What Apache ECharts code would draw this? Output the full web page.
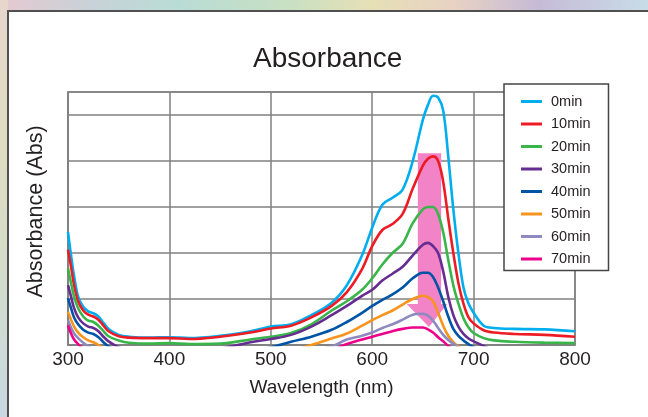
<!DOCTYPE html>
<html lang="en">
<head>
    <meta charset="UTF-8">
    <title>Absorbance</title>
    <script src="https://cdn.jsdelivr.net/npm/echarts@6/dist/echarts.min.js"></script>
    <style>
        html, body { margin: 0; padding: 0; }
        .frame {
            position: relative; width: 648px; height: 417px; overflow: hidden;
            background: linear-gradient(90deg, #e6c9d0 0%, #c8d2d8 14%, #b9dcd5 28%, #c8e0c3 44%, #e5e0b6 57%, #e8d2c3 70%, #c6bbd7 83%, #c8dce8 100%);
        }
        .side {
            position: absolute; left: 0; top: 0; width: 8px; height: 417px;
            background: linear-gradient(180deg, #e6d6cc 0%, #dfdcc0 35%, #d6dcc8 60%, #c7d8e2 100%);
        }
        .panel {
            position: absolute; left: 7px; top: 10px; right: 0; bottom: 0;
            background: #fff; border-top: 2px solid #505050; border-left: 2px solid #505050;
        }
        #main { position: absolute; left: 0; top: 0; width: 648px; height: 417px; }
    </style>
</head>
<body>
<div class="frame">
    <div class="side"></div>
    <div class="panel"></div>
    <div id="main"></div>
</div>
<script>
    // 波长 (nm)
    var wavelengths = [300, 303, 306, 310, 315, 320, 325, 330, 335, 340,
        350, 360, 380, 400, 420, 450, 480, 500, 520, 540,
        560, 575, 590, 600, 610, 620, 630, 640, 650, 655,
        660, 665, 670, 675, 680, 685, 690, 695, 700, 710,
        720, 740, 770, 800];

    var abs0 = [2.46, 1.95, 1.5, 1.05, 0.83, 0.73, 0.69, 0.62, 0.48, 0.35,
        0.22, 0.18, 0.16, 0.17, 0.15, 0.2, 0.3, 0.4, 0.45, 0.65,
        0.92, 1.3, 1.95, 2.55, 3.05, 3.2, 3.38, 4.0, 4.9, 5.22,
        5.42, 5.38, 5.1, 4.1, 2.95, 2.0, 1.25, 0.9, 0.7, 0.42,
        0.37, 0.35, 0.34, 0.3];
    var abs10 = [2.07, 1.7, 1.3, 0.95, 0.75, 0.66, 0.62, 0.55, 0.42, 0.3,
        0.19, 0.16, 0.15, 0.15, 0.13, 0.18, 0.27, 0.36, 0.42, 0.6,
        0.85, 1.15, 1.65, 2.15, 2.5, 2.63, 2.85, 3.4, 3.9, 4.05,
        4.1, 4.0, 3.55, 2.75, 2.0, 1.35, 0.9, 0.6, 0.47, 0.32,
        0.27, 0.24, 0.22, 0.18];
    var abs20 = [1.67, 1.35, 1.05, 0.8, 0.62, 0.53, 0.5, 0.42, 0.3, 0.19,
        0.1, 0.05, 0.03, 0.04, 0.02, 0.03, 0.12, 0.18, 0.26, 0.45,
        0.75, 0.95, 1.2, 1.45, 1.75, 2.0, 2.2, 2.65, 2.95, 3.0,
        3.0, 2.85, 2.45, 1.85, 1.3, 0.9, 0.58, 0.38, 0.26, 0.15,
        0.1, 0.07, 0.05, 0.04];
    var abs30 = [1.3, 1.05, 0.8, 0.6, 0.47, 0.4, 0.37, 0.3, 0.18, 0.08,
        -0.05, -0.12, -0.15, -0.15, -0.15, -0.08, 0.06, 0.13, 0.22, 0.4,
        0.65, 0.85, 1.07, 1.2, 1.4, 1.55, 1.7, 1.95, 2.18, 2.22,
        2.15, 2.0, 1.6, 1.05, 0.65, 0.4, 0.24, 0.14, 0.08, -0.02,
        -0.12, -0.15, -0.15, -0.15];
    var abs40 = [1.02, 0.8, 0.6, 0.45, 0.33, 0.27, 0.24, 0.17, 0.06, -0.03,
        -0.12, -0.15, -0.15, -0.15, -0.15, -0.15, -0.12, -0.05, 0.07, 0.18,
        0.33, 0.5, 0.7, 0.85, 0.98, 1.1, 1.25, 1.45, 1.57, 1.57,
        1.48, 1.25, 0.95, 0.62, 0.35, 0.2, 0.1, 0.02, -0.05, -0.12,
        -0.15, -0.15, -0.15, -0.15];
    var abs50 = [0.72, 0.55, 0.4, 0.27, 0.17, 0.1, 0.06, 0.0, -0.08, -0.15,
        -0.15, -0.15, -0.15, -0.15, -0.15, -0.15, -0.15, -0.15, -0.12, 0.0,
        0.14, 0.25, 0.42, 0.54, 0.65, 0.75, 0.88, 1.0, 1.07, 1.04,
        0.95, 0.7, 0.42, 0.2, 0.06, -0.03, -0.1, -0.15, -0.15, -0.15,
        -0.15, -0.15, -0.15, -0.15];
    var abs60 = [0.54, 0.38, 0.25, 0.15, 0.05, -0.03, -0.1, -0.15, -0.15, -0.15,
        -0.15, -0.15, -0.15, -0.15, -0.15, -0.15, -0.15, -0.15, -0.15, -0.12,
        -0.03, 0.12, 0.2, 0.27, 0.37, 0.45, 0.55, 0.66, 0.68, 0.64,
        0.53, 0.37, 0.22, 0.11, 0.03, -0.05, -0.12, -0.15, -0.15, -0.15,
        -0.15, -0.15, -0.15, -0.15];
    var abs70 = [0.43, 0.25, 0.12, 0.02, -0.08, -0.15, -0.15, -0.15, -0.15, -0.15,
        -0.15, -0.15, -0.15, -0.15, -0.15, -0.15, -0.15, -0.15, -0.15, -0.15,
        -0.1, 0.02, 0.12, 0.18, 0.24, 0.3, 0.35, 0.38, 0.38, 0.34,
        0.27, 0.17, 0.08, -0.02, -0.1, -0.15, -0.15, -0.15, -0.15, -0.15,
        -0.15, -0.15, -0.15, -0.15];

    var seriesNames = ['0min', '10min', '20min', '30min', '40min', '50min', '60min', '70min'];
    var seriesValues = [abs0, abs10, abs20, abs30, abs40, abs50, abs60, abs70];
    var seriesColors = ['#00aeef', '#ed1c24', '#39b54a', '#662d91', '#0054a6', '#f7941d', '#8e8ac0', '#ec008c'];

    // 粉色箭头 (nm, Abs)
    var arrowShape = [[645, 4.17], [668, 4.17], [668, 0.89], [674, 0.89], [656, 0.39], [634, 0.89], [645, 0.89]];

    var font = "'Liberation Sans', Arial, sans-serif";
    var gridColor = '#808080';

    var series = [{
        type: 'custom',
        silent: true,
        z: 1,
        data: [[656, 2]],
        renderItem: function (params, api) {
            var pts = arrowShape.map(function (p) { return api.coord(p); });
            return { type: 'polygon', shape: { points: pts }, style: { fill: '#f283c6' } };
        }
    }];
    seriesNames.forEach(function (name, k) {
        series.push({
            name: name,
            type: 'line',
            smooth: 0.35,
            symbol: 'none',
            clip: true,
            z: 3,
            lineStyle: { width: 2.6, color: seriesColors[k] },
            itemStyle: { color: seriesColors[k] },
            data: wavelengths.map(function (w, i) { return [w, seriesValues[k][i]]; })
        });
    });

    var myChart = echarts.init(document.getElementById('main'));
    var option = {
        animation: false,
        backgroundColor: 'transparent',
        textStyle: { fontFamily: font },
        title: {
            text: 'Absorbance',
            left: 248,
            top: 40,
            textStyle: { fontSize: 28, fontWeight: 'normal', color: '#231f20', fontFamily: font }
        },
        legend: {
            data: seriesNames,
            orient: 'vertical',
            left: 504,
            top: 84,
            padding: [10, 18, 4, 17],
            icon: 'rect',
            itemWidth: 21,
            itemHeight: 3,
            itemGap: 7.5,
            backgroundColor: '#fff',
            borderColor: '#444',
            borderWidth: 1.5,
            borderRadius: 0,
            textStyle: { fontSize: 14.5, lineHeight: 14, color: '#231f20', fontFamily: font, padding: [0, 0, 0, 4] }
        },
        grid: {
            left: 68, right: 73, top: 92, bottom: 72,
            show: true, borderColor: gridColor, borderWidth: 1.5
        },
        xAxis: {
            type: 'value',
            min: 300, max: 800, interval: 100,
            name: 'Wavelength (nm)',
            nameLocation: 'middle',
            nameGap: 33,
            nameTextStyle: { fontSize: 19, color: '#231f20', fontFamily: font },
            axisLine: { lineStyle: { color: gridColor, width: 1.5 } },
            axisTick: { show: false },
            axisLabel: { fontSize: 19, color: '#231f20', margin: 5, fontFamily: font },
            splitLine: { lineStyle: { color: gridColor, width: 1.5 } }
        },
        yAxis: {
            type: 'value',
            min: 0, max: 5.5, interval: 1,
            name: 'Absorbance (Abs)',
            nameLocation: 'middle',
            nameGap: 21,
            nameTextStyle: { fontSize: 21.5, color: '#231f20', fontFamily: font, padding: [0, 0, 0, 14] },
            axisLine: { show: true, lineStyle: { color: gridColor, width: 1.5 } },
            axisTick: { show: false },
            axisLabel: { show: false },
            splitLine: { lineStyle: { color: gridColor, width: 1.5 } }
        },
        series: series
    };
    myChart.setOption(option);
</script>
</body>
</html>
